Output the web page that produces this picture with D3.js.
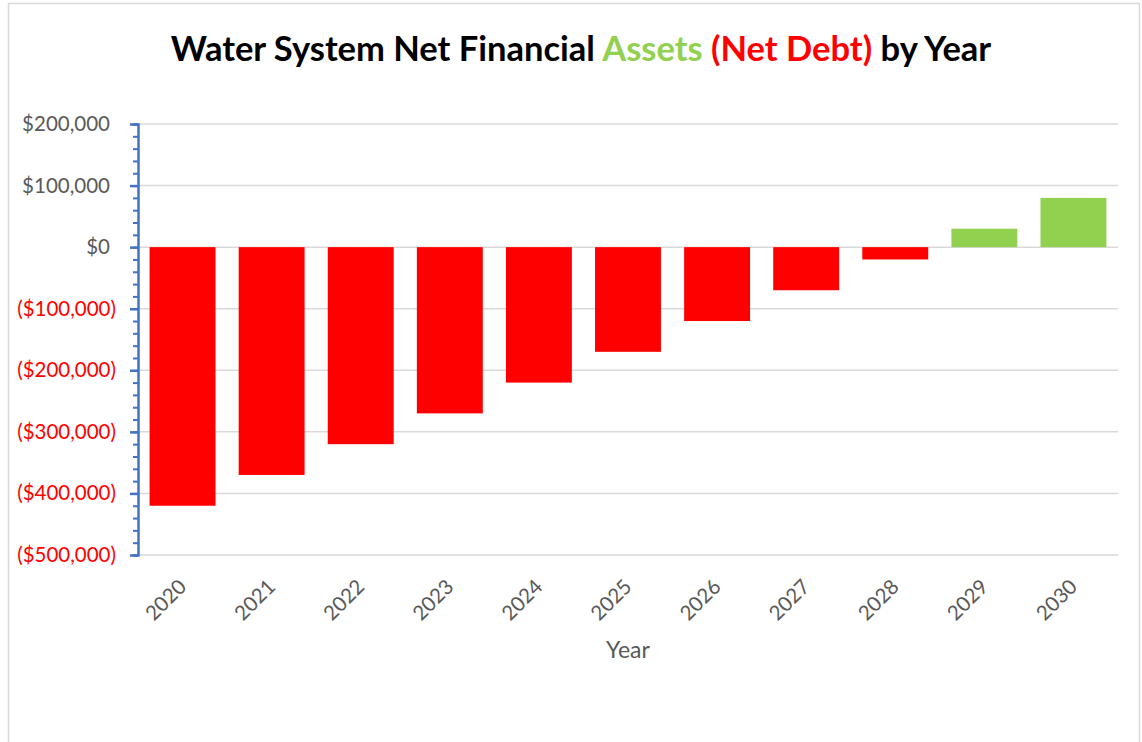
<!DOCTYPE html>
<html>
<head>
<meta charset="utf-8">
<script src="https://cdn.jsdelivr.net/npm/d3@7"></script>
<style>
  body { margin: 0; background: #fff; }
  svg text { font-family: Lato, "Open Sans", sans-serif; }
</style>
</head>
<body>
<script>
var years = ["2020", "2021", "2022", "2023", "2024", "2025", "2026", "2027", "2028", "2029", "2030"];
var netAssets = [-420000, -370000, -320000, -270000, -220000, -170000, -120000, -70000, -20000, 30000, 80000];
var yTicks = [200000, 100000, 0, -100000, -200000, -300000, -400000, -500000];

var w = 1142;
var h = 742;
var margin = {top: 124, right: 24, bottom: 187, left: 138};

var green = "#92D050";
var red = "#FF0000";
var grey = "#595959";

var svg = d3.select("body")
            .append("svg")
            .attr("width", w)
            .attr("height", h);

//chart frame
svg.append("rect")
   .attr("x", 8.5)
   .attr("y", 3.5)
   .attr("width", w - 11)
   .attr("height", h + 10)
   .attr("fill", "none")
   .attr("stroke", "#d9d9d9")
   .attr("stroke-width", 1.5);

//title with coloured words
var title = svg.append("text")
               .attr("x", 581)
               .attr("y", 61)
               .attr("text-anchor", "middle")
               .style("font-size", "34.5px")
               .style("font-weight", "bold");
title.append("tspan").attr("fill", "#000").text("Water System Net Financial ");
title.append("tspan").attr("fill", green).text("Assets ");
title.append("tspan").attr("fill", red).text("(Net Debt)");
title.append("tspan").attr("fill", "#000").text(" by Year");

//scales
var x = d3.scaleBand()
          .domain(years)
          .range([margin.left, w - margin.right])
          .paddingInner(0.26)
          .paddingOuter(0.13);

var y = d3.scaleLinear()
          .domain([-500000, 200000])
          .range([h - margin.bottom, margin.top]);

//gridlines
svg.append("g")
   .selectAll("line")
   .data(yTicks)
   .enter()
   .append("line")
   .attr("x1", margin.left)
   .attr("x2", w - margin.right)
   .attr("y1", function(d) { return y(d); })
   .attr("y2", function(d) { return y(d); })
   .attr("stroke", "#d9d9d9")
   .attr("stroke-width", 1.5);

//bars
svg.append("g")
   .selectAll("rect")
   .data(netAssets)
   .enter()
   .append("rect")
   .attr("x", function(d, i) { return x(years[i]); })
   .attr("width", x.bandwidth())
   .attr("y", function(d) { return y(Math.max(0, d)); })
   .attr("height", function(d) { return Math.abs(y(d) - y(0)); })
   .attr("fill", function(d) { return d < 0 ? red : green; });

//y axis: minor ticks every 20,000
var fmt = d3.format("$,.0f");
function money(d) {
    return d < 0 ? "(" + fmt(-d) + ")" : fmt(d);
}

var minor = d3.axisLeft(y)
              .tickValues(d3.range(-500000, 200001, 20000))
              .tickSize(5)
              .tickFormat("");
svg.append("g")
   .attr("transform", "translate(" + margin.left + ",0)")
   .call(minor)
   .call(function(g) {
       g.selectAll("line").attr("stroke", "#4472C4").attr("stroke-width", 2);
       g.select(".domain").attr("stroke", "#4472C4").attr("stroke-width", 2.5);
   });

var yAxis = d3.axisLeft(y)
              .tickValues(yTicks)
              .tickSize(8)
              .tickPadding(14)
              .tickFormat(money);
svg.append("g")
   .attr("transform", "translate(" + margin.left + ",0)")
   .call(yAxis)
   .call(function(g) {
       g.select(".domain").remove();
       g.selectAll("line").attr("stroke", "#4472C4").attr("stroke-width", 2.5);
       g.selectAll("text")
        .style("font-size", "20.5px")
        .attr("dx", function(d) { return d < 0 ? 0 : -6; })
        .attr("fill", function(d) { return d < 0 ? red : grey; });
   });

//x axis labels, rotated
var xAxis = d3.axisBottom(x).tickSize(0).tickPadding(0);
svg.append("g")
   .attr("transform", "translate(0," + (h - margin.bottom) + ")")
   .call(xAxis)
   .call(function(g) {
       g.select(".domain").remove();
       g.selectAll("text")
        .style("font-size", "20.5px")
        .attr("fill", grey)
        .attr("text-anchor", "end")
        .attr("dy", 0)
        .attr("transform", "translate(5,33) rotate(-45)");
   });

//axis title
svg.append("text")
   .attr("x", 628)
   .attr("y", 658)
   .attr("text-anchor", "middle")
   .attr("fill", grey)
   .style("font-size", "23px")
   .text("Year");
</script>
</body>
</html>
